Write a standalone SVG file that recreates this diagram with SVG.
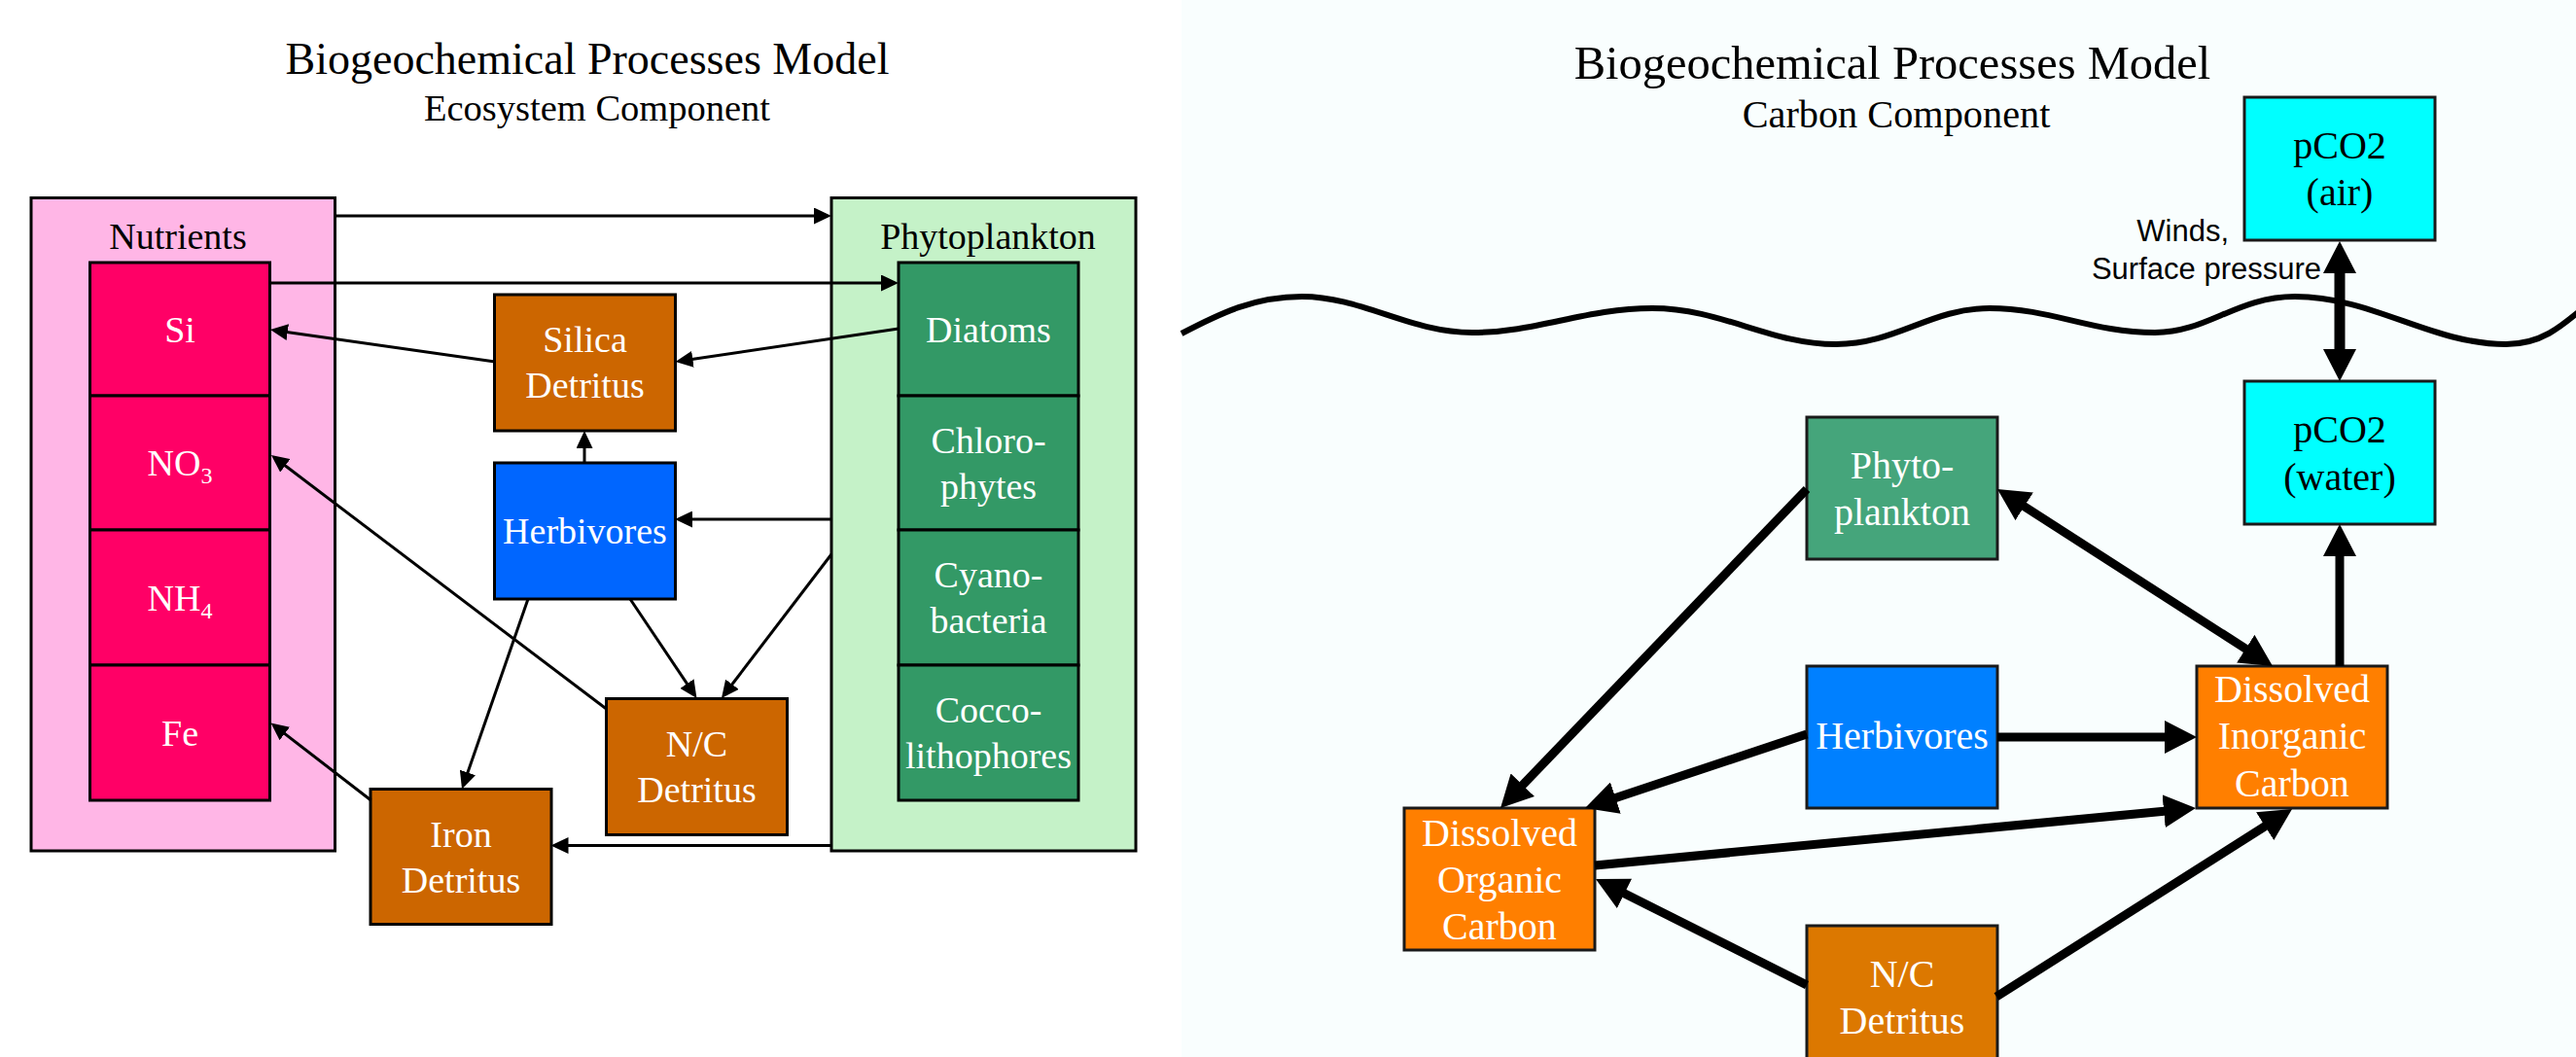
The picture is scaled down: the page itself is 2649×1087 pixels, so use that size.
<svg xmlns="http://www.w3.org/2000/svg" width="2649" height="1087" viewBox="0 0 2649 1087">
<style>
.ser{font-family:"Liberation Serif","Times New Roman",serif}
.san{font-family:"Liberation Sans",Arial,sans-serif}
.bx{stroke:#000;stroke-width:3}
.bxr{stroke:#1a1a1a;stroke-width:3}
.wt{fill:#fff}
.bk{fill:#000}
.l{font-size:38px}
.r{font-size:40px}
.c{text-anchor:middle}
.thin{stroke:#000;stroke-width:3;fill:none}
.thk{stroke:#000;stroke-width:9;fill:none}
</style>
<defs>
<marker id="ahS" markerUnits="userSpaceOnUse" markerWidth="18" markerHeight="17" refX="1" refY="8.5" orient="auto"><path d="M0,0L18,8.5L0,17z" fill="#000"/></marker>
<marker id="ahL" markerUnits="userSpaceOnUse" markerWidth="33" markerHeight="34" refX="3" refY="17" orient="auto-start-reverse"><path d="M0,0L33,17L0,34z" fill="#000"/></marker>
</defs>
<rect x="0" y="0" width="2649" height="1087" fill="#fff"/>
<rect x="1215" y="0" width="1434" height="1087" fill="#f9fefe"/>

<!-- Left panel titles -->
<g id="title-left">
<text class="ser c" x="604" y="76" font-size="46">Biogeochemical Processes Model</text>
<text class="ser c" x="614" y="124" font-size="38.5">Ecosystem Component</text>
</g>

<!-- Nutrients group -->
<g id="nutrients">
<rect class="bx" x="32" y="203.5" width="312.5" height="671.5" fill="#ffb6e6"/>
<text class="ser c l" x="183" y="256">Nutrients</text>
</g>
<g id="si"><rect class="bx" x="92.5" y="270" width="185" height="137" fill="#ff0066"/><text class="ser c l wt" x="185" y="352">Si</text></g>
<g id="no3"><rect class="bx" x="92.5" y="407" width="185" height="138" fill="#ff0066"/><text class="ser c l wt" x="185" y="489">NO<tspan font-size="24" dy="8">3</tspan></text></g>
<g id="nh4"><rect class="bx" x="92.5" y="545" width="185" height="139" fill="#ff0066"/><text class="ser c l wt" x="185" y="628">NH<tspan font-size="24" dy="8">4</tspan></text></g>
<g id="fe"><rect class="bx" x="92.5" y="684" width="185" height="139" fill="#ff0066"/><text class="ser c l wt" x="185" y="767">Fe</text></g>

<!-- Phytoplankton group -->
<g id="phytoplankton">
<rect class="bx" x="855" y="203.5" width="313" height="671.5" fill="#c5f2c8"/>
<text class="ser c l" x="1016" y="256">Phytoplankton</text>
</g>
<g id="diatoms"><rect class="bx" x="924" y="270" width="185" height="137" fill="#339966"/><text class="ser c l wt" x="1016.5" y="352">Diatoms</text></g>
<g id="chlorophytes"><rect class="bx" x="924" y="407" width="185" height="138" fill="#339966"/><text class="ser c l wt" x="1016.5" y="466">Chloro-</text><text class="ser c l wt" x="1016.5" y="513">phytes</text></g>
<g id="cyanobacteria"><rect class="bx" x="924" y="545" width="185" height="139" fill="#339966"/><text class="ser c l wt" x="1016.5" y="604">Cyano-</text><text class="ser c l wt" x="1016.5" y="651">bacteria</text></g>
<g id="coccolithophores"><rect class="bx" x="924" y="684" width="185" height="139" fill="#339966"/><text class="ser c l wt" x="1016.5" y="743">Cocco-</text><text class="ser c l wt" x="1016.5" y="790">lithophores</text></g>

<g id="silica-detritus"><rect class="bx" x="508.5" y="303" width="186" height="140" fill="#cc6600"/><text class="ser c l wt" x="601.5" y="362">Silica</text><text class="ser c l wt" x="601.5" y="409">Detritus</text></g>
<g id="herbivores-left"><rect class="bx" x="508.5" y="476" width="186" height="140" fill="#0066ff"/><text class="ser c l wt" x="601.5" y="559">Herbivores</text></g>
<g id="nc-detritus-left"><rect class="bx" x="623.5" y="718.5" width="186" height="140" fill="#cc6600"/><text class="ser c l wt" x="716.5" y="778">N/C</text><text class="ser c l wt" x="716.5" y="825">Detritus</text></g>
<g id="iron-detritus"><rect class="bx" x="381" y="811.5" width="186" height="139" fill="#cc6600"/><text class="ser c l wt" x="474" y="871">Iron</text><text class="ser c l wt" x="474" y="918">Detritus</text></g>

<!-- Right panel -->
<g id="title-right">
<text class="ser c" x="1946" y="81" font-size="48.5">Biogeochemical Processes Model</text>
<text class="ser c" x="1950" y="131" font-size="40.3">Carbon Component</text>
</g>
<path id="sea-surface" d="M1215,343 C1255,322 1290,305 1339,305 C1400,305 1450,342 1514,342 C1580,342 1630,317 1699,317 C1770,317 1820,354 1888,354 C1950,354 1985,317 2046,317 C2110,317 2150,342 2216,342 C2270,342 2300,305 2360,305 C2440,305 2500,354 2577,354 C2612,354 2632,338 2662,312" fill="none" stroke="#000" stroke-width="6"/>

<g id="pco2-air"><rect class="bxr" x="2308" y="100" width="196" height="147" fill="#00ffff"/><text class="ser c r bk" x="2406" y="163">pCO2</text><text class="ser c r bk" x="2406" y="211">(air)</text></g>
<g id="pco2-water"><rect class="bxr" x="2308" y="392" width="196" height="147" fill="#00ffff"/><text class="ser c r bk" x="2406" y="455">pCO2</text><text class="ser c r bk" x="2406" y="504">(water)</text></g>
<g id="phyto-right"><rect class="bxr" x="1858" y="429" width="196" height="146" fill="#45a57b"/><text class="ser c r wt" x="1956" y="492">Phyto-</text><text class="ser c r wt" x="1956" y="540">plankton</text></g>
<g id="herbivores-right"><rect class="bxr" x="1858" y="685" width="196" height="146" fill="#0080ff"/><text class="ser c r wt" x="1956" y="770">Herbivores</text></g>
<g id="nc-detritus-right"><rect class="bxr" x="1858" y="952" width="196" height="146" fill="#dc7800"/><text class="ser c r wt" x="1956" y="1015">N/C</text><text class="ser c r wt" x="1956" y="1063">Detritus</text></g>
<g id="dic"><rect class="bxr" x="2259" y="685" width="196" height="146" fill="#ff7f00"/><text class="ser c r wt" x="2357" y="722">Dissolved</text><text class="ser c r wt" x="2357" y="770">Inorganic</text><text class="ser c r wt" x="2357" y="819">Carbon</text></g>
<g id="doc"><rect class="bxr" x="1444" y="831" width="196" height="146" fill="#ff7f00"/><text class="ser c r wt" x="1542" y="870">Dissolved</text><text class="ser c r wt" x="1542" y="918">Organic</text><text class="ser c r wt" x="1542" y="966">Carbon</text></g>

<g id="winds-label" class="san" font-size="31" text-anchor="end">
<text x="2292" y="248">Winds,</text>
<text x="2387" y="287">Surface pressure</text>
</g>

<g id="connectors">
<!-- left -->
<line class="thin" x1="344" y1="222" x2="838" y2="222" marker-end="url(#ahS)"/>
<line class="thin" x1="277" y1="291" x2="907" y2="291" marker-end="url(#ahS)"/>
<line class="thin" x1="924" y1="338" x2="711.4" y2="369.5" marker-end="url(#ahS)"/>
<line class="thin" x1="509" y1="372" x2="294.8" y2="341.4" marker-end="url(#ahS)"/>
<line class="thin" x1="601" y1="476" x2="601" y2="460" marker-end="url(#ahS)"/>
<line class="thin" x1="855" y1="534" x2="711" y2="534" marker-end="url(#ahS)"/>
<line class="thin" x1="623.5" y1="729" x2="292.5" y2="478.3" marker-end="url(#ahS)"/>
<line class="thin" x1="543" y1="616" x2="480.6" y2="795.4" marker-end="url(#ahS)"/>
<line class="thin" x1="648" y1="616" x2="707" y2="703.9" marker-end="url(#ahS)"/>
<line class="thin" x1="855" y1="570" x2="752.3" y2="704.5" marker-end="url(#ahS)"/>
<line class="thin" x1="381.5" y1="823" x2="292" y2="753.9" marker-end="url(#ahS)"/>
<line class="thin" x1="855" y1="869.5" x2="583.5" y2="869.5" marker-end="url(#ahS)"/>
<!-- right -->
<line stroke="#000" stroke-width="11" x1="2406" y1="278" x2="2406" y2="362" marker-start="url(#ahL)" marker-end="url(#ahL)"/>
<line class="thk" stroke-width="8" x1="1858" y1="503" x2="1563.8" y2="809.4" marker-end="url(#ahL)"/>
<line class="thk" x1="2079.2" y1="519.2" x2="2311.8" y2="668.8" marker-start="url(#ahL)" marker-end="url(#ahL)"/>
<line class="thk" stroke-width="8" x1="2406" y1="685" x2="2406" y2="569" marker-end="url(#ahL)"/>
<line class="thk" x1="2054" y1="758" x2="2229" y2="758" marker-end="url(#ahL)"/>
<line class="thk" x1="1858" y1="755" x2="1658.5" y2="821.5" marker-end="url(#ahL)"/>
<line class="thk" x1="1640" y1="890" x2="2228.1" y2="833.9" marker-end="url(#ahL)"/>
<line class="thk" x1="1858" y1="1013" x2="1667.8" y2="917.5" marker-end="url(#ahL)"/>
<line class="thk" x1="2053" y1="1025" x2="2331.7" y2="848.1" marker-end="url(#ahL)"/>
</g>
</svg>
